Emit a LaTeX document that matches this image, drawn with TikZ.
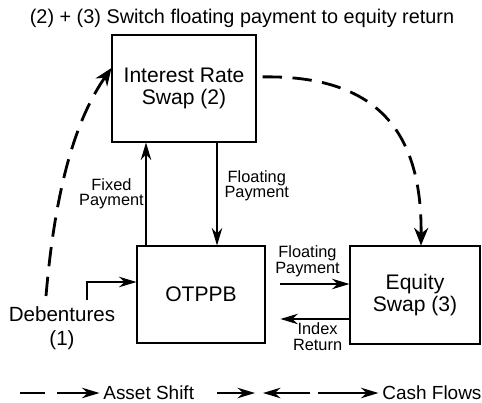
\documentclass[tikz,border=0pt]{standalone}
\usepackage{fontspec}
\setmainfont{Liberation Sans}
\usetikzlibrary{arrows.meta}
\begin{document}
\begin{tikzpicture}[x=0.02cm,y=-0.02cm]
		\tikzset{box/.style = {shape=rectangle,draw,line width=0.6pt,align=center,font=\fontsize{12}{12.5}\selectfont}}
		\tikzset{cash/.style = {-{Stealth[length=10pt,width=6pt]},line width=0.6pt}}
		\tikzset{assetshift/.style = {-{Stealth[length=10pt,width=8pt]},line width=1.6pt,dash pattern=on 11pt off 6pt}}
		\tikzset{lbl/.style = {align=center,inner sep=1pt,font=\fontsize{9.3}{8.8}\selectfont}}
		\tikzset{keytext/.style = {anchor=west,inner sep=0pt,font=\fontsize{10.8}{12}\selectfont}}
		\useasboundingbox (0,0) rectangle (482,402);
		\node[font=\fontsize{11.3}{13}\selectfont] (title) at (242,18) {(2) + (3) Switch floating payment to equity return};
		\node[box,minimum width=2.88cm,minimum height=2.14cm] (irs) at (184,88.5) {Interest Rate\\Swap (2)};
		\node[box,minimum width=2.56cm,minimum height=1.94cm] (otppb) at (201,294.5) {OTPPB};
		\node[box,minimum width=2.6cm,minimum height=1.96cm] (equity) at (415,295) {Equity\\Swap (3)};
		\node[align=center,font=\fontsize{11.7}{13.6}\selectfont] (deb) at (62,328) {Debentures\\(1)};
		\coordinate (debtop) at (46,296);
		% cash flows
		\draw[cash] (146,0 |- otppb.north) -- (146,0 |- irs.south) node[lbl,midway,left] {Fixed\\Payment};
		\draw[cash] (217,0 |- irs.south) -- (217,0 |- otppb.north) node[lbl,pos=0.42,right,xshift=3pt] {Floating\\Payment};
		\draw[cash,shorten <=8.5pt] (otppb.east |- 0,284) -- (equity.west |- 0,284) node[lbl,midway,above,yshift=3pt] {Floating\\Payment};
		\draw[cash,shorten >=8.5pt] (equity.west |- 0,319) -- (otppb.east |- 0,319) node[lbl,pos=0.38,below,yshift=-1pt] {Index\\Return};
		\draw[cash] (deb.north -| 87,0) |- (otppb.west |- 0,282);
		% asset shifts
		\draw[assetshift] (debtop) .. controls (55,190) and (75,120) .. (irs.west |- 0,68);
		\draw[assetshift,shorten <=3.5pt] (irs.east |- 0,77) .. controls (385,75) and (422,140) .. (421,0 |- equity.north);
		% key
		\node[keytext] (assetkey) at (103,393) {Asset Shift};
		\node[keytext] (cashkey) at (382,393) {Cash Flows};
		\coordinate (k1) at (20,393);
		\coordinate (k2) at (45,393);
		\coordinate (k3) at (57,393);
		\coordinate (k4) at (217,393);
		\coordinate (k5) at (255,393);
		\coordinate (k6) at (263,393);
		\coordinate (k7) at (310,393);
		\coordinate (k8) at (318,393);
		\draw[line width=0.8pt] (k1) -- (k2);
		\draw[cash,line width=0.8pt,shorten >=2pt] (k3) -- (assetkey.west);
		\draw[cash,line width=0.8pt] (k4) -- (k5);
		\draw[cash,line width=0.8pt] (k7) -- (k6);
		\draw[cash,line width=0.8pt,shorten >=2pt] (k8) -- (cashkey.west);
\end{tikzpicture}
\end{document}
